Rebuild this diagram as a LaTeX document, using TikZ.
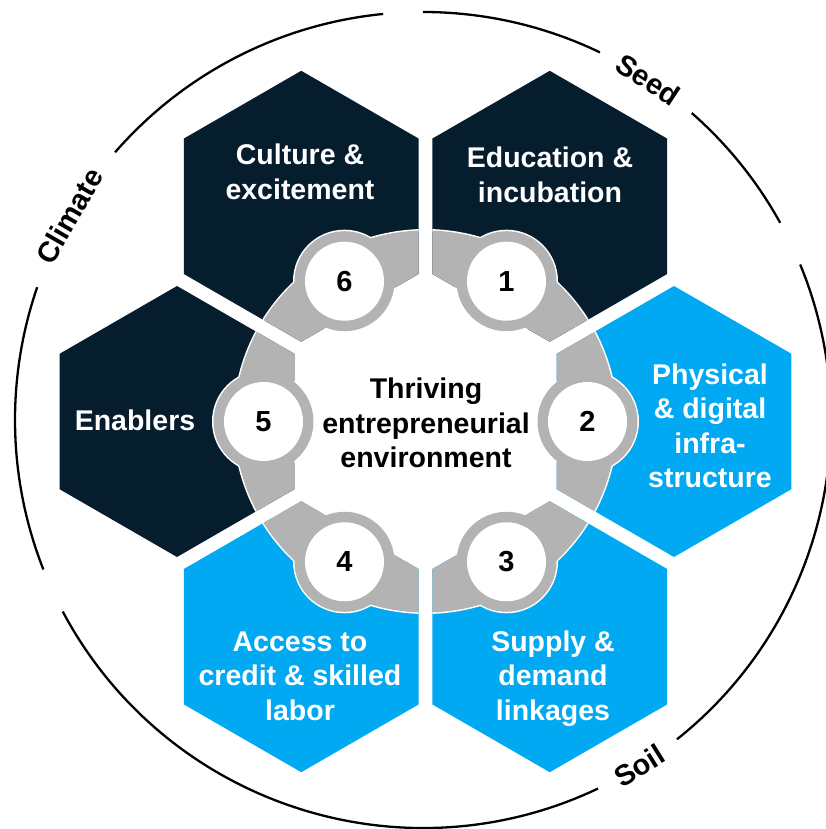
\documentclass[tikz,border=0pt]{standalone}
\usepackage{fontspec}
\setmainfont{Liberation Sans}
\usetikzlibrary{positioning}
\definecolor{cellnavy}{HTML}{061D2E}
\definecolor{cellblue}{HTML}{00A9F1}
\definecolor{ringgray}{HTML}{B3B3B3}

\begin{document}
\begin{tikzpicture}[
    x=1pt, y=1pt,
    font=\bfseries\fontsize{28.5}{34.5}\selectfont,
    celltext/.style={text=white, align=center, inner sep=0pt},
    midtext/.style={text=black, align=center, inner sep=0pt},
    numdisc/.style={circle, fill=white, minimum size=79pt, inner sep=0pt, font=\bfseries\fontsize{29}{34}\selectfont},
    rimlabel/.style={inner sep=0pt, font=\bfseries\fontsize{29}{35}\selectfont},
    rim/.style={line width=2.3pt},
    halo/.style={draw=white, line width=3pt}
]
  \useasboundingbox (-425.5,-407.5) rectangle (400.5,421.5);

  % six honeycomb cells around an empty middle
  \foreach \ang/\col in {60/cellnavy, 0/cellblue, -60/cellblue, -120/cellblue, 180/cellnavy, 120/cellnavy}
    \fill[\col, shift={(\ang:248.5)}] (30:135.5) \foreach \k in {90,150,...,330} {-- (\k:135.5)} -- cycle;

  % grey ring: white halo first, then the grey on top
  \foreach \ang in {60,0,-60,-120,180,120} {
    \begin{scope}
      \clip[shift={(\ang:248.5)}] (30:135.5) \foreach \k in {90,150,...,330} {-- (\k:135.5)} -- cycle;
      \draw[halo] (0,0) circle[radius=191];
    \end{scope}
  }
  \foreach \ang in {60,0,-60,-120,180,120}
    \draw[halo] (\ang:162) circle[radius=50];
  \foreach \ang in {60,0,-60,-120,180,120} {
    \begin{scope}
      \clip[shift={(\ang:248.5)}] (30:135.5) \foreach \k in {90,150,...,330} {-- (\k:135.5)} -- cycle;
      \fill[ringgray] (0,0) circle[radius=191];
    \end{scope}
  }
  \foreach \ang in {60,0,-60,-120,180,120}
    \fill[ringgray] (\ang:162) circle[radius=50];

  % numbered discs
  \node[numdisc] (n1) at (60:162) {1};
  \node[numdisc] (n2) at (0:162) {2};
  \node[numdisc] (n3) at (-60:162) {3};
  \node[numdisc] (n4) at (-120:162) {4};
  \node[numdisc] (n5) at (180:162) {5};
  \node[numdisc] (n6) at (120:162) {6};

  \node[midtext] (core) at (0.5,-1.5) {Thriving\\entrepreneurial\\environment};

  % cell captions
  \node[celltext] (educ) at (124.5,246.5) {Education \&\\incubation};
  \node[celltext] (infra) at (284.5,-4.5) {Physical\\\& digital\\infra-\\structure};
  \node[celltext] (supply) at (127.5,-257) {Supply \&\\demand\\linkages};
  \node[celltext] (credit) at (-125.5,-254.5) {Access to\\credit \& skilled\\labor};
  \node[celltext] (enab) at (-290.5,1.5) {Enablers};
  \node[celltext] (cult) at (-125.5,249.5) {Culture \&\\excitement};

  % outer rim, broken where the words sit
  \coordinate (rimc) at (-2.5,1.5);
  \foreach \a/\b in {-51.5/22.4, 28.9/48.8, 64.3/90, 95.6/139, 161/201.5, 208/295.4}
    \draw[rim] (rimc) ++(\a:408) arc[start angle=\a, end angle=\b, radius=408];
  \path (rimc) ++(150:408) node[rimlabel, rotate=60] (climate) {Climate};
  \path (rimc) ++(56.5:408) node[rimlabel, rotate=-33.5] (seed) {Seed};
  \path (rimc) ++(-58:408) node[rimlabel, rotate=32] (soil) {Soil};
\end{tikzpicture}
\end{document}
